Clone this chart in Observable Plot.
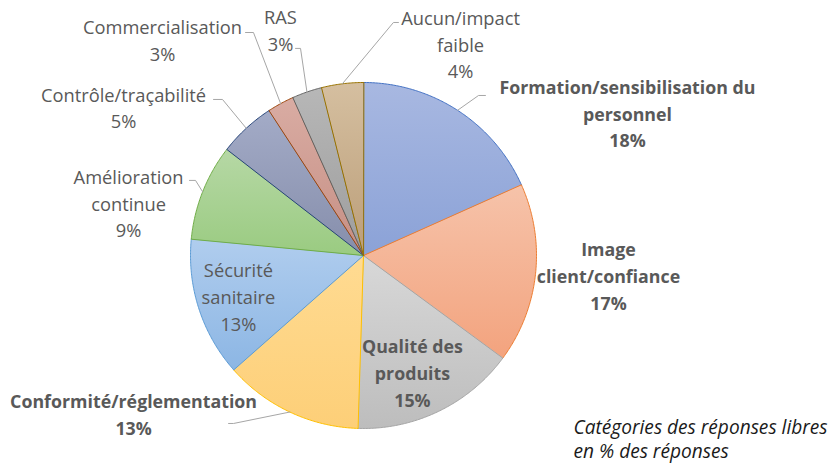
<!DOCTYPE html>
<html><head><meta charset="utf-8">
<script src="https://cdn.jsdelivr.net/npm/d3@7"></script>
<script src="https://cdn.jsdelivr.net/npm/@observablehq/plot@0.6"></script>
<style>body{margin:0;background:#fff;}</style>
</head><body><div id="chart"></div>
<script>
// ---- data ----
const categories = ["Formation/sensibilisation du personnel", "Image client/confiance", "Qualité des produits", "Conformité/réglementation", "Sécurité sanitaire", "Amélioration continue", "Contrôle/traçabilité", "Commercialisation", "RAS", "Aucun/impact faible"];
const shares = [18.3, 16.8, 15.4, 13.0, 13.0, 9.0, 5.3, 2.5, 2.8, 3.9];
const labelLines = [["Formation/sensibilisation du", "personnel"], ["Image", "client/confiance"], ["Qualité des", "produits"], ["Conformité/réglementation"], ["Sécurité", "sanitaire"], ["Amélioration", "continue"], ["Contrôle/traçabilité"], ["Commercialisation"], ["RAS"], ["Aucun/impact", "faible"]];
const captionLines = ["Catégories des réponses libres", "en % des réponses"];

// ---- styles / layout ----
const fillTop = ["#a8b8e1", "#f6c3aa", "#d8d8d8", "#ffdb92", "#b0cdee", "#b6d8a5", "#a3abc7", "#d9aca3", "#b7b7b7", "#d5bfa0"];
const fillBottom = ["#8ba2d7", "#f3a37e", "#bdbdbd", "#fdcf78", "#8cb6e4", "#9acb81", "#868eab", "#c68f84", "#9d9d9d", "#bb9e79"];
const strokeColors = ["#4472c4", "#ed7d31", "#a5a5a5", "#ffc000", "#5b9bd5", "#70ad47", "#264478", "#9e480e", "#636363", "#997300"];
const boldLabel = [true, true, true, true, false, false, false, false, false, false];
// label centres and leader elbows, in units of the pie radius relative to its centre
const labelPos = [[1.526, 0.829], [1.416, -0.110], [0.283, -0.671], [-1.329, -0.910], [-0.723, -0.231], [-1.358, 0.309], [-1.387, 0.861], [-1.162, 1.251], [-0.480, 1.309], [0.561, 1.228]];
const leaderEnds = [[[0.665, 0.925], [0.705, 0.925]], null, null, [[-0.751, -0.971], [-0.780, -0.971]], null, [[-0.971, 0.434], [-1.006, 0.434]], [[-0.815, 0.902], [-0.867, 0.902]], [[-0.636, 1.289], [-0.682, 1.289]], [[-0.364, 1.197], [-0.393, 1.197]], [[0.173, 1.347], [0.202, 1.347]]];
const captionPos = [1.214, -1.058];

const W = 835, H = 464, CX = 363, CY = 255, R = 173;
const FONT_REG = 18.3, FONT_BOLD = 17.8, FONT_CAP = 19.1, LINE_PX = 26.7;

// ---- derived ----
const total = d3.sum(shares);
let acc = 0;
const slices = categories.map((c, i) => {
  const a0 = acc / total * 2 * Math.PI; acc += shares[i];
  const a1 = acc / total * 2 * Math.PI;
  return {c, i, a0, a1, mid: (a0 + a1) / 2, pct: Math.round(shares[i] / total * 100)};
});
const polyPts = slices.flatMap(s => {
  const n = Math.max(2, Math.ceil((s.a1 - s.a0) / (Math.PI / 360)));
  const pts = [{i: s.i, x: 0, y: 0}];
  for (let k = 0; k <= n; k++) {
    const a = s.a0 + (s.a1 - s.a0) * k / n;
    pts.push({i: s.i, x: Math.sin(a), y: Math.cos(a)});
  }
  return pts;
});
const labels = slices.map(s => ({
  i: s.i, x: labelPos[s.i][0], y: labelPos[s.i][1], bold: boldLabel[s.i],
  text: labelLines[s.i].join("\n") + "\n" + s.pct + "%"
}));
const leaders = slices.filter(s => leaderEnds[s.i]).flatMap(s => [
  {i: s.i, x: Math.sin(s.mid), y: Math.cos(s.mid)},
  {i: s.i, x: leaderEnds[s.i][0][0], y: leaderEnds[s.i][0][1]},
  {i: s.i, x: leaderEnds[s.i][1][0], y: leaderEnds[s.i][1][1]}
]);

const defsMark = () => {
  const ns = "http://www.w3.org/2000/svg";
  const g = document.createElementNS(ns, "g");
  const defs = document.createElementNS(ns, "defs");
  g.appendChild(defs);
  slices.forEach(s => {
    const lg = document.createElementNS(ns, "linearGradient");
    lg.setAttribute("id", "grad" + s.i);
    lg.setAttribute("x1", "0"); lg.setAttribute("y1", "0");
    lg.setAttribute("x2", "0"); lg.setAttribute("y2", "1");
    [[0, fillTop[s.i]], [1, fillBottom[s.i]]].forEach(([o, col]) => {
      const st = document.createElementNS(ns, "stop");
      st.setAttribute("offset", o); st.setAttribute("stop-color", col);
      lg.appendChild(st);
    });
    defs.appendChild(lg);
  });
  return g;
};

const chart = Plot.plot({
  width: W, height: H,
  margin: 0,
  x: {domain: [-CX / R, (W - CX) / R], axis: null},
  y: {domain: [(CY - H) / R, CY / R], axis: null},
  color: {type: "identity"},
  style: {fontFamily: "'Open Sans', sans-serif", background: "#fff"},
  marks: [
    defsMark,
    Plot.line(polyPts, {x: "x", y: "y", z: "i", fill: d => `url(#grad${d.i})`, stroke: d => strokeColors[d.i], strokeWidth: 1, curve: "linear-closed"}),
    Plot.line(leaders, {x: "x", y: "y", z: "i", stroke: "#a6a6a6", strokeWidth: 1}),
    Plot.text(labels.filter(d => d.bold), {x: "x", y: "y", text: "text", fill: "#595959", fontSize: FONT_BOLD, fontWeight: "bold", lineHeight: LINE_PX / FONT_BOLD}),
    Plot.text(labels.filter(d => !d.bold), {x: "x", y: "y", text: "text", fill: "#595959", fontSize: FONT_REG, lineHeight: LINE_PX / FONT_REG}),
    Plot.text([captionLines.join("\n")], {x: () => captionPos[0], y: () => captionPos[1], text: d => d, textAnchor: "start", fill: "#1a1a1a", fontSize: FONT_CAP, fontStyle: "italic", lineHeight: 24 / FONT_CAP})
  ]
});
document.getElementById("chart").appendChild(chart);
</script>
</body></html>
